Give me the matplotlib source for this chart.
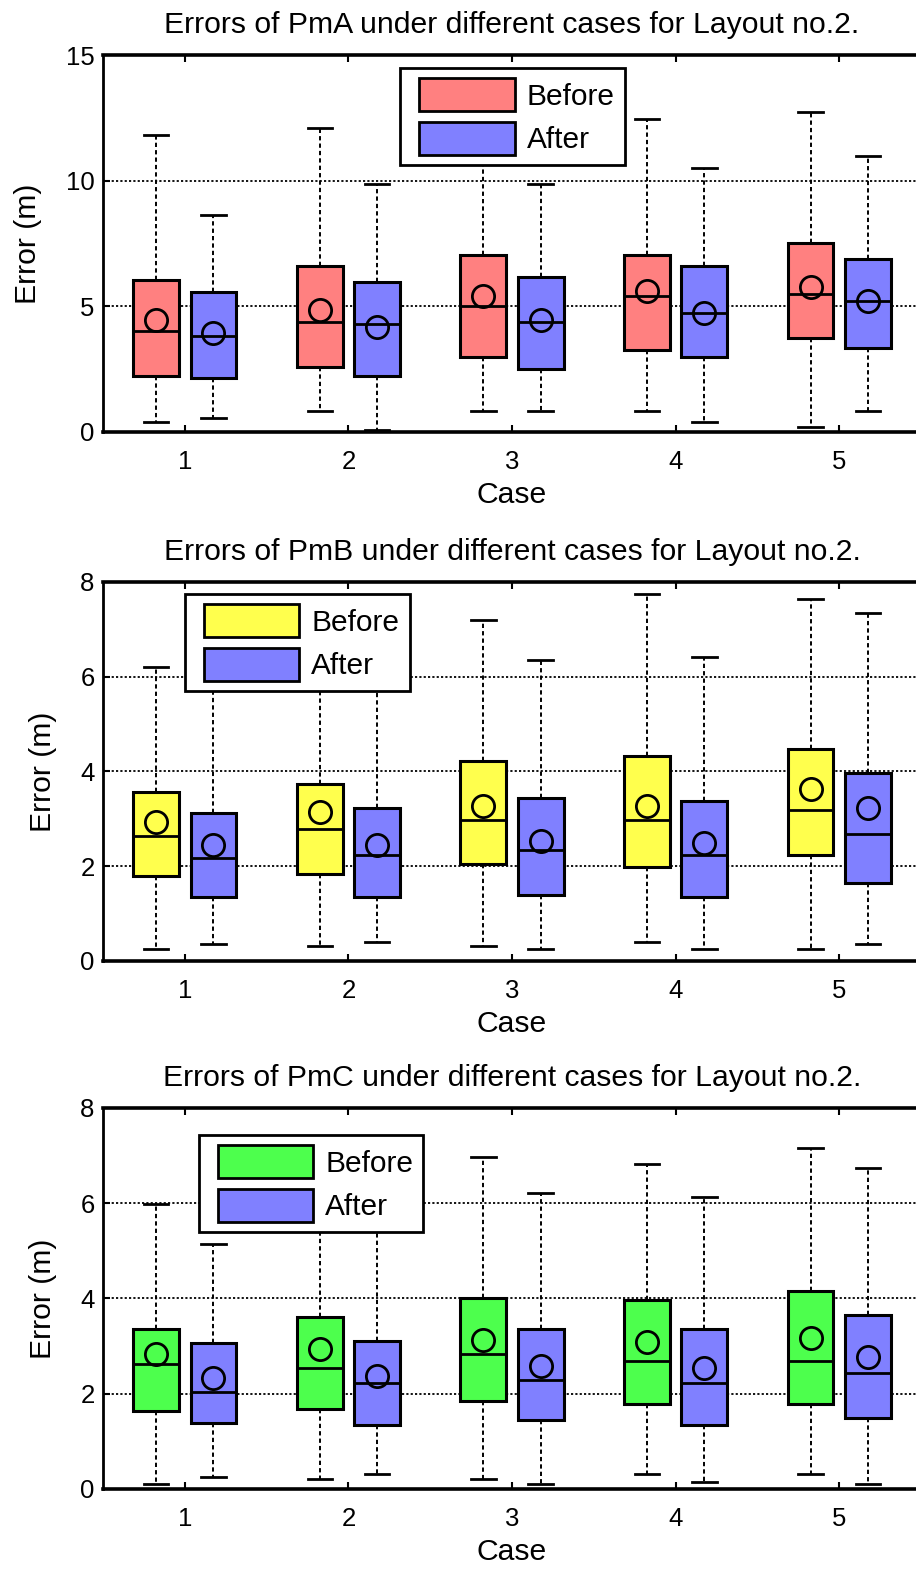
import matplotlib
matplotlib.use("Agg")
import matplotlib.pyplot as plt
import matplotlib.patches as mpatches
from matplotlib.legend_handler import HandlerPatch

plt.rcParams['font.family'] = ['Liberation Sans', 'DejaVu Sans']

cases = [1, 2, 3, 4, 5]
case_labels = ['1', '2', '3', '4', '5']

# ---- PmA ----
pma_before_lo = [0.38, 0.84, 0.84, 0.84, 0.20]
pma_before_q1 = [2.23, 2.60, 2.97, 3.26, 3.72]
pma_before_med = [4.00, 4.37, 5.03, 5.40, 5.49]
pma_before_q3 = [6.06, 6.60, 7.06, 7.06, 7.53]
pma_before_hi = [11.80, 12.08, 12.50, 12.45, 12.73]
pma_before_mean = [4.47, 4.84, 5.40, 5.60, 5.77]

pma_after_lo = [0.57, 0.09, 0.84, 0.38, 0.84]
pma_after_q1 = [2.14, 2.23, 2.50, 2.97, 3.35]
pma_after_med = [3.81, 4.29, 4.37, 4.74, 5.21]
pma_after_q3 = [5.58, 5.95, 6.15, 6.60, 6.89]
pma_after_hi = [8.64, 9.85, 9.85, 10.50, 10.98]
pma_after_mean = [3.92, 4.18, 4.47, 4.74, 5.21]

# ---- PmB ----
pmb_before_lo = [0.26, 0.31, 0.31, 0.40, 0.26]
pmb_before_q1 = [1.79, 1.84, 2.04, 1.99, 2.24]
pmb_before_med = [2.64, 2.78, 2.98, 2.98, 3.19]
pmb_before_q3 = [3.57, 3.73, 4.23, 4.33, 4.47]
pmb_before_hi = [6.21, 6.80, 7.20, 7.74, 7.65]
pmb_before_mean = [2.94, 3.14, 3.28, 3.28, 3.63]

pmb_after_lo = [0.35, 0.40, 0.26, 0.26, 0.35]
pmb_after_q1 = [1.34, 1.34, 1.39, 1.34, 1.64]
pmb_after_med = [2.18, 2.24, 2.34, 2.24, 2.68]
pmb_after_q3 = [3.13, 3.23, 3.43, 3.38, 3.97]
pmb_after_hi = [6.50, 6.60, 6.36, 6.41, 7.35]
pmb_after_mean = [2.44, 2.44, 2.54, 2.49, 3.23]

# ---- PmC ----
pmc_before_lo = [0.11, 0.21, 0.21, 0.31, 0.31]
pmc_before_q1 = [1.64, 1.69, 1.84, 1.79, 1.79]
pmc_before_med = [2.63, 2.53, 2.83, 2.68, 2.68]
pmc_before_q3 = [3.36, 3.61, 4.00, 3.96, 4.15]
pmc_before_hi = [5.98, 6.30, 6.96, 6.82, 7.16]
pmc_before_mean = [2.83, 2.93, 3.13, 3.08, 3.18]

pmc_after_lo = [0.26, 0.31, 0.11, 0.15, 0.11]
pmc_after_q1 = [1.39, 1.34, 1.44, 1.34, 1.49]
pmc_after_med = [2.03, 2.23, 2.28, 2.23, 2.43]
pmc_after_q3 = [3.06, 3.11, 3.36, 3.36, 3.66]
pmc_after_hi = [5.14, 6.00, 6.22, 6.13, 6.73]
pmc_after_mean = [2.33, 2.38, 2.58, 2.53, 2.78]

COL_RED = '#FF8080'
COL_YELLOW = '#FFFF4D'
COL_GREEN = '#4DFF4D'
COL_BLUE = '#8080FF'

LABEL_SIZE = 21.7
TICK_SIZE = 18.5


def make_stats(lo, q1, med, q3, hi, mean):
    return [dict(whislo=a, q1=b, med=c, q3=d, whishi=e, mean=f, fliers=[])
            for a, b, c, d, e, f in zip(lo, q1, med, q3, hi, mean)]


def draw_group(ax, stats, positions, color):
    ax.bxp(stats, positions=positions, widths=0.28, patch_artist=True,
           showmeans=True, showfliers=False, manage_ticks=False,
           boxprops=dict(facecolor=color, edgecolor='black', linewidth=2.2),
           medianprops=dict(color='black', linewidth=2.0),
           whiskerprops=dict(color='black', linewidth=1.4, linestyle=(0, (2.2, 1.6))),
           capprops=dict(color='black', linewidth=2.0),
           capwidths=0.15,
           meanprops=dict(marker='o', markersize=16, markerfacecolor='none',
                          markeredgecolor='black', markeredgewidth=2.0),
           zorder=3)


def inset_swatch(legend, orig_handle, xdescent, ydescent, width, height, fontsize):
    # swatch indented from the left edge of its handle box
    indent = 0.3 * fontsize
    return mpatches.Rectangle((-xdescent + indent, -ydescent), width - indent, height)


fig = plt.figure(figsize=(9.16, 15.72), dpi=100)

panels = [
    dict(name='PmA', color=COL_RED, ymax=15, yticks=[0, 5, 10, 15],
         rect=[103 / 916, 0.7252, 818 / 916, 0.2398], leg=(0.363, 0.9655),
         before=(pma_before_lo, pma_before_q1, pma_before_med, pma_before_q3, pma_before_hi, pma_before_mean),
         after=(pma_after_lo, pma_after_q1, pma_after_med, pma_after_q3, pma_after_hi, pma_after_mean)),
    dict(name='PmB', color=COL_YELLOW, ymax=8, yticks=[0, 2, 4, 6, 8],
         rect=[103 / 916, 0.3887, 818 / 916, 0.2411], leg=(0.100, 0.968),
         before=(pmb_before_lo, pmb_before_q1, pmb_before_med, pmb_before_q3, pmb_before_hi, pmb_before_mean),
         after=(pmb_after_lo, pmb_after_q1, pmb_after_med, pmb_after_q3, pmb_after_hi, pmb_after_mean)),
    dict(name='PmC', color=COL_GREEN, ymax=8, yticks=[0, 2, 4, 6, 8],
         rect=[103 / 916, 0.0528, 818 / 916, 0.2424], leg=(0.117, 0.929),
         before=(pmc_before_lo, pmc_before_q1, pmc_before_med, pmc_before_q3, pmc_before_hi, pmc_before_mean),
         after=(pmc_after_lo, pmc_after_q1, pmc_after_med, pmc_after_q3, pmc_after_hi, pmc_after_mean)),
]

offset = 0.175
for p in panels:
    ax = fig.add_axes(p['rect'])
    ax.set_xlim(0.5, 5.5)
    ax.set_ylim(0, p['ymax'])
    ax.set_yticks(p['yticks'])
    ax.set_xticks(cases)
    ax.set_xticklabels(case_labels)

    ax.yaxis.grid(True, linestyle=(0, (1.2, 1.2)), color='black', linewidth=1.3, zorder=0)
    ax.set_axisbelow(True)

    draw_group(ax, make_stats(*p['before']), [c - offset for c in cases], p['color'])
    draw_group(ax, make_stats(*p['after']), [c + offset for c in cases], COL_BLUE)

    for side in ['top', 'bottom']:
        ax.spines[side].set_linewidth(2.6)
    ax.spines['left'].set_linewidth(2.0)
    ax.tick_params(axis='both', direction='in', length=5, width=1.5,
                   labelsize=TICK_SIZE, top=True, right=False)
    ax.tick_params(axis='x', pad=13)
    ax.tick_params(axis='y', pad=6)

    ax.set_title(f'Errors of {p["name"]} under different cases for Layout no.2.',
                 fontsize=LABEL_SIZE, pad=16)
    ax.set_xlabel('Case', fontsize=LABEL_SIZE, labelpad=5)
    ax.set_ylabel('Error (m)', fontsize=LABEL_SIZE, labelpad=17)

    handles = [mpatches.Patch(facecolor=p['color'], edgecolor='black', linewidth=2.0, label='Before'),
               mpatches.Patch(facecolor=COL_BLUE, edgecolor='black', linewidth=2.0, label='After')]
    leg = ax.legend(handles=handles, loc='upper left', bbox_to_anchor=p['leg'],
                    borderaxespad=0, fontsize=21.5, handlelength=3.5, handleheight=1.32,
                    labelspacing=0.36, handletextpad=0.4, borderpad=0.34,
                    fancybox=False, framealpha=1, edgecolor='black',
                    handler_map={mpatches.Patch: HandlerPatch(patch_func=inset_swatch)})
    leg.get_frame().set_linewidth(2.0)
    leg.set_zorder(10)

fig.savefig('out.png', dpi=100)
